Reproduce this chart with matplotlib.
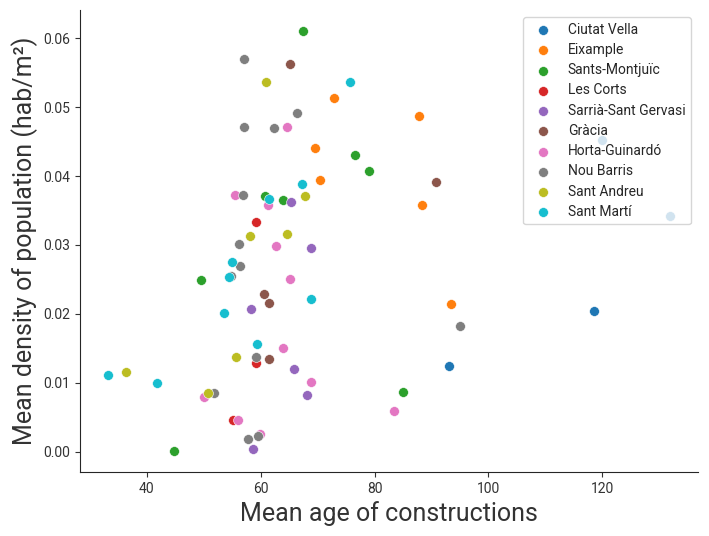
import matplotlib
matplotlib.use("Agg")
import matplotlib.pyplot as plt
import seaborn as sns

sns.set_style("ticks")
plt.rcParams['font.family'] = ['Roboto', 'DejaVu Sans']

# mean age of constructions (x) and mean density (y) per neighbourhood, by district
districts = ["Ciutat Vella", "Eixample", "Sants-Montjuïc", "Les Corts",
             "Sarrià-Sant Gervasi", "Gràcia", "Horta-Guinardó", "Nou Barris",
             "Sant Andreu", "Sant Martí"]

ciutat_vella_x = [120.0, 118.6, 93.0, 131.9]
ciutat_vella_y = [0.0452, 0.0204, 0.0125, 0.0342]

eixample_x = [72.8, 87.8, 69.6, 70.5, 88.4, 93.45]
eixample_y = [0.0513, 0.0487, 0.0440, 0.0394, 0.0358, 0.0214]

sants_x = [67.5, 76.5, 79.1, 60.7, 64.0, 49.5, 85.05, 44.8]
sants_y = [0.0610, 0.0430, 0.0408, 0.0371, 0.0365, 0.0249, 0.0087, 0.0001]

les_corts_x = [59.1, 59.1, 55.05]
les_corts_y = [0.0333, 0.0129, 0.0046]

sarria_x = [65.4, 68.9, 58.3, 65.8, 68.1, 58.6]
sarria_y = [0.0362, 0.0295, 0.0207, 0.0120, 0.0083, 0.0004]

gracia_x = [65.1, 90.8, 60.5, 61.4, 61.4]
gracia_y = [0.0563, 0.0391, 0.0229, 0.0216, 0.0134]

horta_x = [64.6, 55.4, 61.2, 62.6, 65.1, 63.9, 68.8, 50.0, 56.0, 59.8, 83.5]
horta_y = [0.0471, 0.0372, 0.0358, 0.0299, 0.0250, 0.0151, 0.0101, 0.0079,
           0.0046, 0.0026, 0.0059]

nou_barris_x = [57.0, 66.3, 57.0, 62.3, 56.9, 56.2, 56.3, 54.8, 59.1, 51.8,
                59.5, 57.7, 95.0]
nou_barris_y = [0.0569, 0.0492, 0.0471, 0.0469, 0.0373, 0.0301, 0.0270,
                0.0255, 0.0138, 0.0085, 0.0023, 0.0018, 0.0182]

sant_andreu_x = [60.9, 67.7, 58.1, 64.7, 55.6, 36.4, 50.7]
sant_andreu_y = [0.0537, 0.0371, 0.0313, 0.0316, 0.0137, 0.0116, 0.0086]

sant_marti_x = [75.6, 67.2, 61.4, 54.9, 54.4, 68.9, 53.5, 59.3, 33.2, 41.8]
sant_marti_y = [0.0536, 0.0388, 0.0366, 0.0275, 0.0254, 0.0221, 0.0201,
                0.0156, 0.0111, 0.0100]

xs = [ciutat_vella_x, eixample_x, sants_x, les_corts_x, sarria_x, gracia_x,
      horta_x, nou_barris_x, sant_andreu_x, sant_marti_x]
ys = [ciutat_vella_y, eixample_y, sants_y, les_corts_y, sarria_y, gracia_y,
      horta_y, nou_barris_y, sant_andreu_y, sant_marti_y]

fig = plt.figure(figsize=(7.09, 5.36), dpi=100)
ax = fig.add_axes([0.113, 0.119, 0.8715, 0.862])

for name, x, y in zip(districts, xs, ys):
    ax.scatter(x, y, s=50, label=name, edgecolors='white', linewidths=0.4)

ax.set_xlabel('Mean age of constructions', fontsize=18, color='#333333')
ax.set_ylabel('Mean density of population (hab/m²)', fontsize=18, color='#333333')
ax.tick_params(labelsize=10, colors='#333333')
ax.set_xticks([40, 60, 80, 100, 120])
sns.despine(ax=ax)

ax.legend(loc='upper right', fontsize=10, framealpha=0.8,
          handletextpad=0.8, borderpad=0.4, labelspacing=0.45)

fig.savefig('out.png', dpi=100)
